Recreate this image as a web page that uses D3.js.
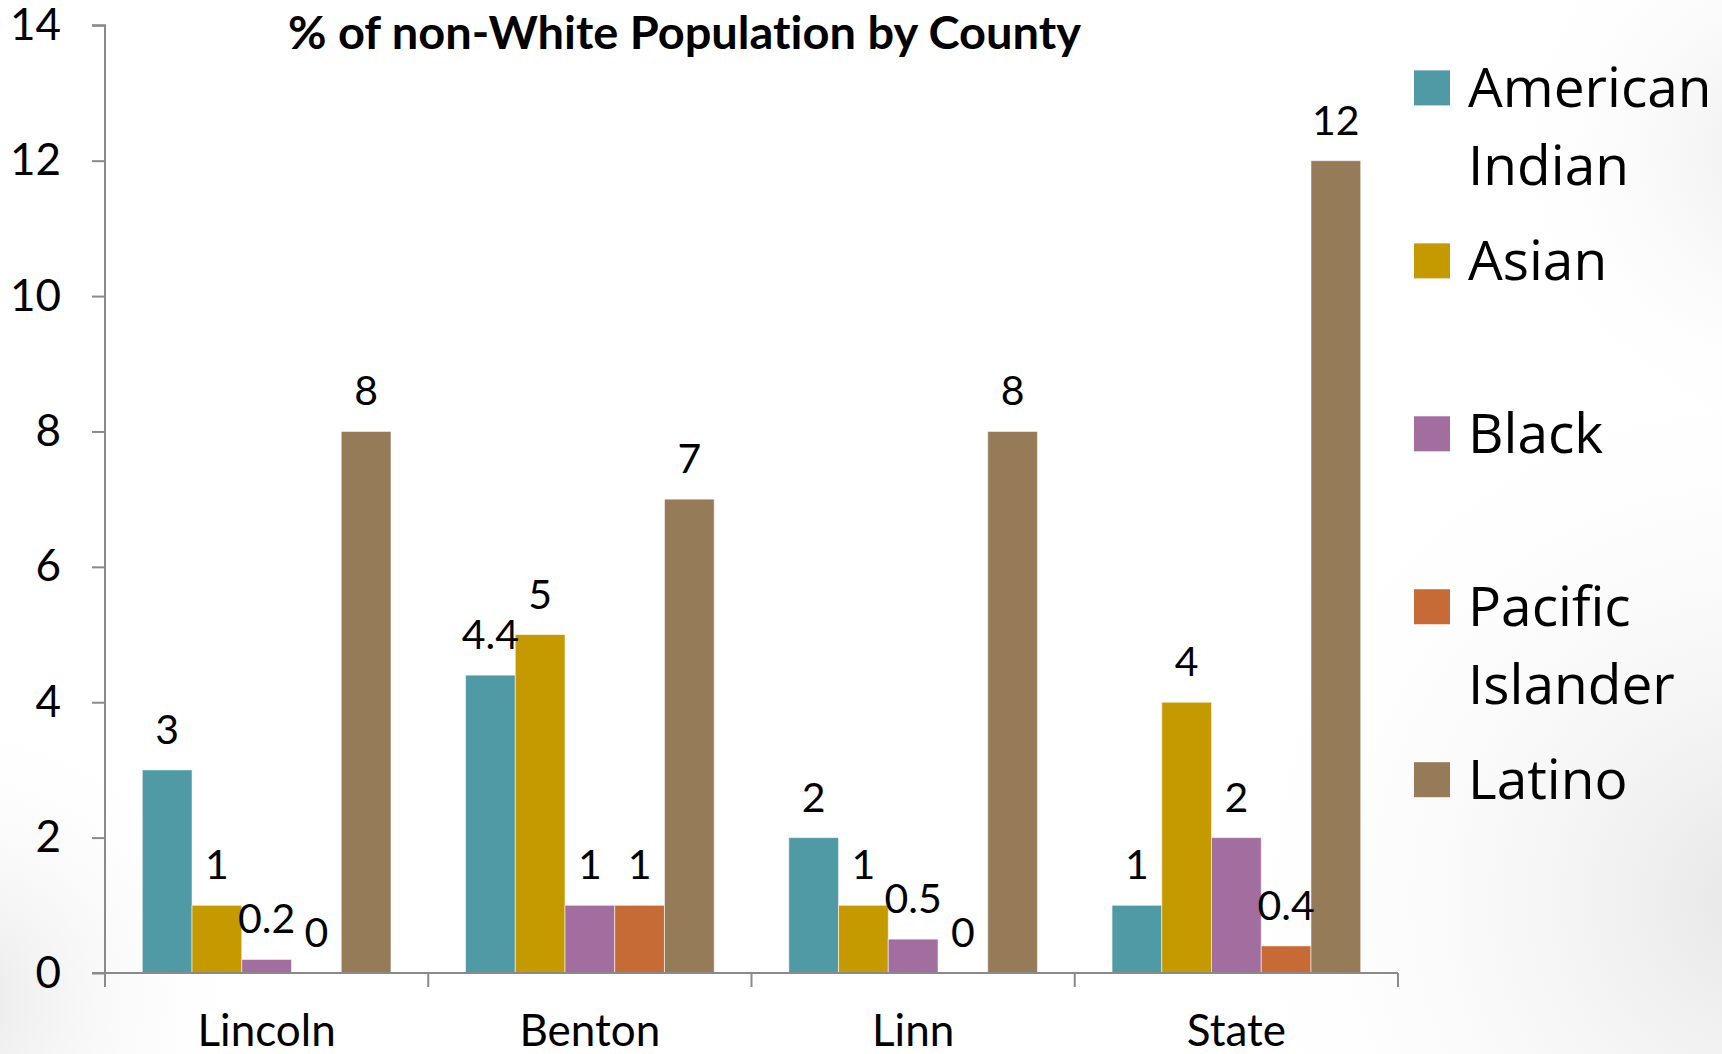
<!DOCTYPE html>
<html><head><meta charset="utf-8">
<script src="https://cdn.jsdelivr.net/npm/d3@7"></script>
<style>html,body{margin:0;padding:0;overflow:hidden;background:#fff} text{font-variant-ligatures:none;font-feature-settings:"liga" 0}</style>
</head><body>
<svg id="chart" width="1722" height="1054"></svg>
<script>
const categories = ["Lincoln", "Benton", "Linn", "State"];
const seriesNames = ["American Indian", "Asian", "Black", "Pacific Islander", "Latino"];
const legendLines = [["American", "Indian"], ["Asian"], ["Black"], ["Pacific", "Islander"], ["Latino"]];
const americanIndian = [3, 4.4, 2, 1];
const asian = [1, 5, 1, 4];
const black = [0.2, 1, 0.5, 2];
const pacificIslander = [0, 1, 0, 0.4];
const latino = [8, 7, 8, 12];
const yTicks = [0, 2, 4, 6, 8, 10, 12, 14];
const seriesColors = ["#4F9AA4", "#C49A00", "#A26D9F", "#C66A36", "#957B57"];
const titleText = "% of non-White Population by County";

const seriesValues = [americanIndian, asian, black, pacificIslander, latino];
const rows = [];
seriesNames.forEach((s, si) => categories.forEach((c, ci) => rows.push({series: s, si, category: c, value: seriesValues[si][ci]})));

const W = 1722, H = 1054;
const svg = d3.select("#chart");
const defs = svg.append("defs");

// slide background
const g1 = defs.append("radialGradient").attr("id", "bgR").attr("gradientUnits", "userSpaceOnUse")
  .attr("cx", 1760).attr("cy", 900).attr("r", 560);
g1.append("stop").attr("offset", "0").attr("stop-color", "#e6e6e6");
g1.append("stop").attr("offset", "1").attr("stop-color", "#ffffff").attr("stop-opacity", 0);
const g2 = defs.append("radialGradient").attr("id", "bgL").attr("gradientUnits", "userSpaceOnUse")
  .attr("cx", -40).attr("cy", 1000).attr("r", 300);
g2.append("stop").attr("offset", "0").attr("stop-color", "#e8e8e8");
g2.append("stop").attr("offset", "1").attr("stop-color", "#ffffff").attr("stop-opacity", 0);
const g3 = defs.append("radialGradient").attr("id", "bgT").attr("gradientUnits", "userSpaceOnUse")
  .attr("cx", 1790).attr("cy", 150).attr("r", 300);
g3.append("stop").attr("offset", "0").attr("stop-color", "#ececec");
g3.append("stop").attr("offset", "1").attr("stop-color", "#ffffff").attr("stop-opacity", 0);
svg.append("rect").attr("width", W).attr("height", H).attr("fill", "#fff");
svg.append("rect").attr("width", W).attr("height", H).attr("fill", "url(#bgR)");
svg.append("rect").attr("width", W).attr("height", H).attr("fill", "url(#bgL)");
svg.append("rect").attr("width", W).attr("height", H).attr("fill", "url(#bgT)");

const plotLeft = 105, plotRight = 1398, plotTop = 25.3, plotBottom = 973;
const x0 = d3.scaleBand().domain(categories).range([plotLeft, plotRight]).paddingInner(0).paddingOuter(0);
const bw = x0.bandwidth();
const x1 = d3.scaleBand().domain(seriesNames).range([bw * 0.75 / 6.5, bw * 5.75 / 6.5]).padding(0);
const y = d3.scaleLinear().domain([0, 14]).range([plotBottom, plotTop]);
const color = d3.scaleOrdinal().domain(seriesNames).range(seriesColors);

const tickFont = "Lato, 'Noto Sans', sans-serif";
const axisColor = "#8a8a8a";

// bars
svg.append("g").selectAll("rect").data(rows).join("rect")
  .attr("x", d => x0(d.category) + x1(d.series))
  .attr("y", d => y(d.value))
  .attr("width", x1.bandwidth())
  .attr("height", d => y(0) - y(d.value))
  .attr("fill", d => color(d.series))
  .attr("stroke", "rgba(255,255,255,0.55)")
  .attr("stroke-width", 1);

// y axis
const yAxis = d3.axisLeft(y).tickValues(yTicks).tickSize(13).tickPadding(31).tickFormat(d3.format("d"));
const gy = svg.append("g").attr("transform", `translate(${plotLeft},0)`).call(yAxis);
gy.select(".domain").attr("stroke", axisColor).attr("stroke-width", 2).attr("d", `M-13,${plotTop}H0V${plotBottom}`);
gy.selectAll(".tick line").attr("stroke", axisColor).attr("stroke-width", 2);
gy.selectAll(".tick text").attr("fill", "#000").style("font-family", tickFont).style("font-size", "44px");

// x axis
const xAxis = d3.axisBottom(x0).tickSize(0).tickPadding(0);
const gx = svg.append("g").attr("transform", `translate(0,${plotBottom})`).call(xAxis);
gx.select(".domain").attr("stroke", axisColor).attr("stroke-width", 2).attr("d", `M${plotLeft - 13},0H${plotRight}`);
gx.selectAll(".tick text").attr("fill", "#000").style("font-family", tickFont).style("font-size", "44px")
  .attr("dy", null).attr("y", 73);
// category boundary ticks
const boundaries = categories.map(c => x0(c)).concat([plotRight]);
gx.append("g").selectAll("line").data(boundaries).join("line")
  .attr("x1", d => d).attr("x2", d => d).attr("y1", 0).attr("y2", 14)
  .attr("stroke", axisColor).attr("stroke-width", 2);

// data labels
svg.append("g").selectAll("text").data(rows).join("text")
  .attr("x", d => x0(d.category) + x1(d.series) + x1.bandwidth() / 2)
  .attr("y", d => y(d.value) - 26)
  .attr("text-anchor", "middle")
  .style("font-family", tickFont).style("font-size", "41px").attr("fill", "#000")
  .text(d => String(d.value));

// title
const title = svg.append("text").attr("x", 288).attr("y", 49)
  .style("font-family", tickFont).style("font-weight", "700").style("font-size", "46px")
  .attr("fill", "#000").text(titleText);
title.attr("textLength", 793).attr("lengthAdjust", "spacingAndGlyphs");

// legend
const ly = d3.scaleLinear().domain([0, 4]).range([87.9, 779.7]);
const leg = svg.append("g").selectAll("g").data(seriesNames).join("g")
  .attr("transform", (d, i) => `translate(1414,${ly(i)})`);
leg.append("rect").attr("x", 0).attr("y", -17.5).attr("width", 36).attr("height", 35).attr("fill", d => color(d));
leg.append("text").attr("x", 54).attr("y", 19)
  .style("font-family", "'Open Sans', sans-serif").style("font-size", "55px").attr("fill", "#000")
  .selectAll("tspan").data((d, i) => legendLines[i]).join("tspan")
  .attr("x", 54).attr("dy", (d, j) => j === 0 ? 0 : 78.5).text(d => d);
</script>
</body></html>
